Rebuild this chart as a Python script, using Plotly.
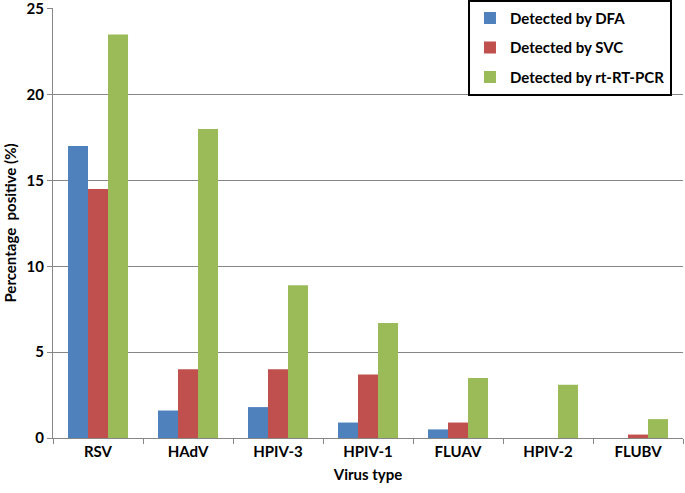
import plotly.graph_objects as go

categories = ["RSV", "HAdV", "HPIV-3", "HPIV-1", "FLUAV", "HPIV-2", "FLUBV"]
dfa = [17.0, 1.6, 1.8, 0.9, 0.5, 0, 0]
svc = [14.5, 4.0, 4.0, 3.7, 0.9, 0, 0.2]
pcr = [23.5, 18.0, 8.9, 6.7, 3.5, 3.1, 1.1]
series_names = ["Detected by DFA", "Detected by SVC", "Detected by rt-RT-PCR"]
colors = ["#4F81BD", "#C0504D", "#9BBB59"]
yticks = [0, 5, 10, 15, 20, 25]

FONT = "Lato, 'Open Sans', Arial, sans-serif"

fig = go.Figure()
for i, (name, vals, c) in enumerate(zip(series_names, [dfa, svc, pcr], colors)):
    fig.add_trace(go.Bar(x=categories, y=vals, name=name, marker_color=c,
                         marker_line_width=0, legendgroup=f"g{i}"))

fig.update_layout(
    width=685, height=493,
    margin=dict(l=53, r=2, t=8, b=55, autoexpand=False),
    paper_bgcolor="white", plot_bgcolor="white",
    barmode="group", bargap=0.333, bargroupgap=0,
    font=dict(family=FONT, color="black"),
    legend=dict(x=0.9825, y=1.019, xanchor="right", yanchor="top",
                bgcolor="white", bordercolor="black", borderwidth=2,
                font=dict(size=15, family=FONT, color="black", weight="bold"),
                tracegroupgap=7, itemwidth=30),
    xaxis=dict(showline=True, linecolor="#868686", linewidth=1, automargin=False,
               ticks="outside", ticklen=5, tickcolor="#868686", tickson="boundaries",
               tickfont=dict(size=15, family=FONT, weight="bold"),
               title=dict(text="<b>Virus type</b>", font=dict(size=15, family=FONT), standoff=10)),
    yaxis=dict(range=[0, 25.04], tickvals=yticks, showgrid=True, gridcolor="#868686", gridwidth=1,
               showline=True, linecolor="#868686", linewidth=1, automargin=False,
               ticks="outside", ticklen=5, tickcolor="#868686", ticklabeloverflow="allow",
               tickfont=dict(size=15, family=FONT, weight="bold"),
               zeroline=False,
               title=dict(text="<b>Percentage  positive (%)</b>", font=dict(size=15, family=FONT), standoff=6)),
)

fig.write_html("out.html", config={"displayModeBar": False},
               post_script="document.body.style.margin='0';document.body.style.overflow='hidden';")
